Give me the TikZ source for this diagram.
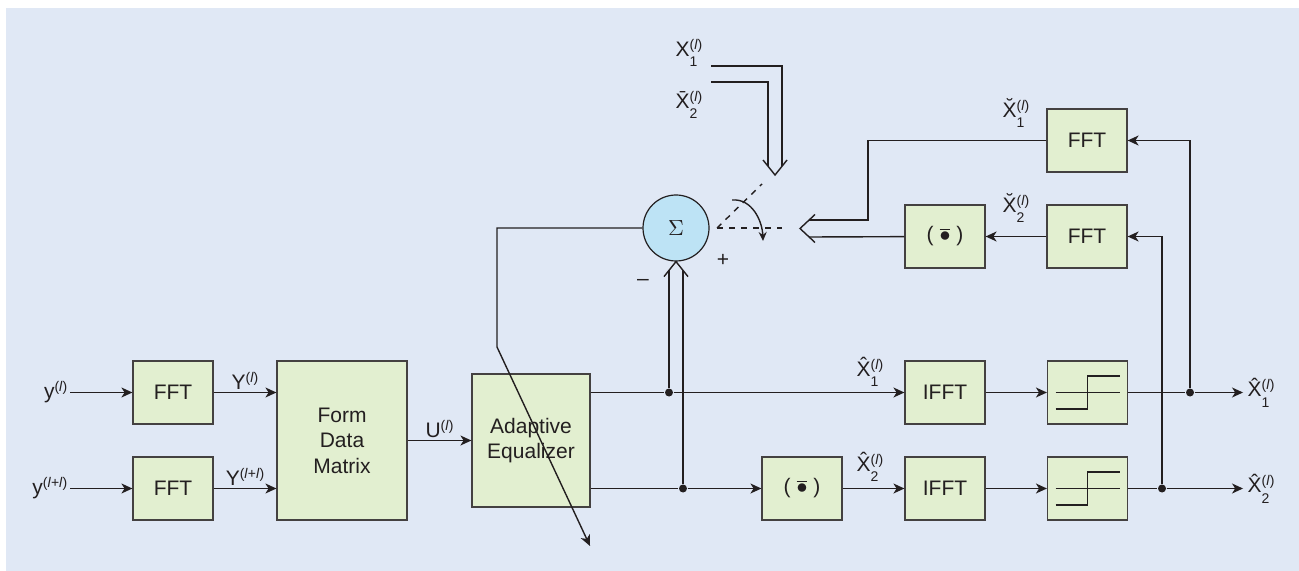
\documentclass[tikz,border=0pt]{standalone}
\usepackage{fontspec}
\setmainfont{Liberation Sans}
\usetikzlibrary{arrows.meta,positioning,calc}
\definecolor{bgblue}{HTML}{E0E8F5}
\definecolor{boxgreen}{HTML}{E2EFD0}
\definecolor{sumblue}{HTML}{BDE3F5}
\definecolor{ink}{HTML}{231F20}
% superscript (l) and stacked sub/superscript labels
\newcommand{\lsup}{\raisebox{3.5pt}{\scriptsize(\textit{l})}}
\newcommand{\lab}[2]{#1\rlap{\lsup}\rlap{\raisebox{-5.2pt}{\scriptsize #2}}\hphantom{\lsup}}
\begin{document}
\begin{tikzpicture}[x=0.5pt,y=-0.5pt,
   font=\fontsize{10.5}{12}\selectfont,
   color=ink, line width=0.7pt,
   blk/.style={draw=ink!85,fill=boxgreen,line width=0.6pt,minimum width=40pt,
     minimum height=31.5pt,inner sep=0pt,align=center,
     font=\fontsize{10.5}{12.8}\selectfont},
   sig/.style={circle,draw=ink,fill=sumblue,line width=0.6pt,minimum size=33pt,inner sep=0pt},
   lbl/.style={inner sep=1pt},
   dot/.style={circle,fill=ink,inner sep=0pt,minimum size=4pt},
   >={Stealth[length=5.5pt,width=5pt,inset=1.6pt]}]

 \useasboundingbox (0,0) rectangle (1299,571);
 \fill[bgblue] (6,8) rectangle (1299,571);

 % receiver front end
 \node[blk] (fft1) at (173,392.5) {FFT};
 \node[blk] (fft2) at (173,488.5) {FFT};
 \node[blk,minimum width=65pt,minimum height=79.5pt] (fdm) at (342,440.5) {Form\\Data\\Matrix};
 \node[blk,minimum width=59pt,minimum height=66.5pt] (aeq) at (531,440.5) {Adaptive\\Equalizer};
 \node[lbl,anchor=east] (y1) at (70,392.5) {y\lsup};
 \node[lbl,anchor=east] (y2) at (70,488.5) {y\raisebox{3.5pt}{\scriptsize(\textit{l}+\textit{l})}};

 \draw[->] (y1) -- (fft1);
 \draw[->] (y2) -- (fft2);
 \draw[->] (fft1) -- (fft1 -| fdm.west) node[midway,above,lbl] (yy1) {Y\lsup};
 \draw[->] (fft2) -- (fft2 -| fdm.west) node[midway,above,lbl] (yy2) {Y\raisebox{3.5pt}{\scriptsize(\textit{l}+\textit{l})}};
 \draw[->] (fdm) -- (aeq) node[midway,above,lbl] (uu) {U\lsup};

 % detection branches
 \node[blk] (ifft1) at (945,392.5) {IFFT};
 \node[blk] (ifft2) at (945,488.5) {IFFT};
 \node[blk] (conj1) at (802,488.5) {(\kern3pt$\overline{\bullet}$\kern3pt)};
 \node[blk] (dec1) at (1087.5,392.5) {};
 \node[blk] (dec2) at (1087.5,488.5) {};
 \foreach \Box in {dec1,dec2}
 {\draw[line width=0.6pt] ([xshift=-16pt]\Box.center) -- ([xshift=16pt]\Box.center);
  \draw ([shift={(-32,16.5)}]\Box.center) -- ++(32,0) -- ++(0,-33) -- ++(32,0);}

 \node[dot] (d1) at (669,392.5) {};
 \node[dot] (d2) at (683,488.5) {};
 \node[dot] (d3) at (1190,392.5) {};
 \node[dot] (d4) at (1162,488.5) {};
 \coordinate (o1) at (1243,392.5);
 \coordinate (o2) at (1243,488.5);

 \draw (aeq.east |- d1) -- (d1);
 \draw (aeq.east |- d2) -- (d2);
 \draw[->] (d1) -- (ifft1);
 \draw[->] (d2) -- (conj1);
 \draw[->] (conj1) -- (ifft2);
 \draw[->] (ifft1) -- (dec1);
 \draw[->] (ifft2) -- (dec2);
 \draw (dec1) -- (d3);
 \draw (dec2) -- (d4);
 \draw[->] (d3) -- (o1);
 \draw[->] (d4) -- (o2);
 \node[lbl,right=1pt of o1] (xo1) {\lab{\^{X}}{1}};
 \node[lbl,right=1pt of o2] (xo2) {\lab{\^{X}}{2}};
 \node[lbl] (xh1) at (870,372) {\lab{\^{X}}{1}};
 \node[lbl] (xh2) at (870,467) {\lab{\^{X}}{2}};

 % regenerated reference
 \node[blk] (fftb1) at (1087,140.5) {FFT};
 \node[blk] (fftb2) at (1087,236.5) {FFT};
 \node[blk] (conj2) at (945,236.5) {(\kern3pt$\overline{\bullet}$\kern3pt)};
 \draw[->] (d3) |- (fftb1);
 \draw[->] (d4) |- (fftb2);
 \draw[->] (fftb2) -- (conj2);
 \node[lbl] (xb1) at (1016,113) {\lab{\u{X}}{1}};
 \node[lbl] (xb2) at (1016,208) {\lab{\u{X}}{2}};

 \coordinate (lt) at (800,228.5);
 \draw (fftb1) -| (868,220) -- ($(lt)+(9,-8.5)$);
 \draw (conj2) -- ($(lt)+(9,8.5)$);
 \draw ($(lt)+(15,-14)$) -- (lt) -- ($(lt)+(15,14)$);

 % training symbols
 \node[lbl] (xi1) at (689,53) {\lab{X}{1}};
 \node[lbl] (xi2) at (689,105) {\lab{\={X}}{2}};
 \coordinate (tt) at (775,175);
 \draw (711,66) -| ($(tt)+(7,-8.75)$);
 \draw (711,82) -| ($(tt)+(-7,-8.75)$);
 \draw ($(tt)+(-12,-15)$) -- (tt) -- ($(tt)+(12,-15)$);

 % summing node and switch
 \node[sig] (sum) at (676,228) {$\Sigma$};
 \coordinate (sw) at (717,228);
 \draw[dashed] (sw) -- (782,228);
 \draw[dashed] (sw) -- (762,184);
 \draw[-{Stealth[length=4.5pt,width=4pt]}] (732,200) to[out=5,in=92] (763,241);
 \node[lbl] (plus) at (723,260) {+};
 \node[lbl] (minus) at (643,282) {--};

 \draw (d1) -- ($(sum.south)+(-7,8.75)$);
 \draw (d2) -- ($(sum.south)+(7,8.75)$);
 \draw ($(sum.south)+(-12,15)$) -- (sum.south) -- ($(sum.south)+(12,15)$);

 % error feedback to equalizer
 \coordinate (fb) at (497,347);
 \coordinate (fbend) at (590,546);
 \draw[->] (sum.west) -| (fb) -- (fbend);

\end{tikzpicture}
\end{document}
